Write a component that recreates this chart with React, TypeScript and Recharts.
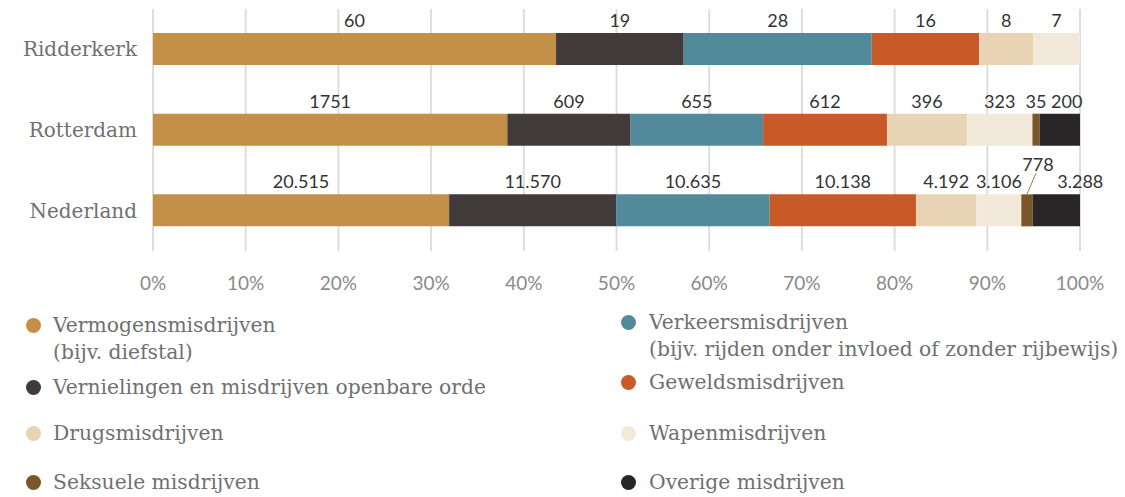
import React from 'react';
import { BarChart, Bar, XAxis, YAxis, CartesianGrid, LabelList } from 'recharts';

// ---- data ----
const categories = ['Ridderkerk', 'Rotterdam', 'Nederland'];
const vermogens = [60, 1751, 20515];
const vernielingen = [19, 609, 11570];
const verkeers = [28, 655, 10635];
const gewelds = [16, 612, 10138];
const drugs = [8, 396, 4192];
const wapen = [7, 323, 3106];
const seksuele = [0, 35, 778];
const overige = [0, 200, 3288];
// whether thousands are grouped with a dot in the value labels (per category, as in source)
const groupThousands = [false, false, true];

const xTicks = [0, 0.1, 0.2, 0.3, 0.4, 0.5, 0.6, 0.7, 0.8, 0.9, 1];
const xTickLabels = ['0%', '10%', '20%', '30%', '40%', '50%', '60%', '70%', '80%', '90%', '100%'];

const seriesKeys = ['vermogens', 'vernielingen', 'verkeers', 'gewelds', 'drugs', 'wapen', 'seksuele', 'overige'];
const seriesValues: Record<string, number[]> = { vermogens, vernielingen, verkeers, gewelds, drugs, wapen, seksuele, overige };
const seriesLegend: Record<string, string[]> = {
  vermogens: ['Vermogensmisdrijven', '(bijv. diefstal)'],
  vernielingen: ['Vernielingen en misdrijven openbare orde'],
  verkeers: ['Verkeersmisdrijven', '(bijv. rijden onder invloed of zonder rijbewijs)'],
  gewelds: ['Geweldsmisdrijven'],
  drugs: ['Drugsmisdrijven'],
  wapen: ['Wapenmisdrijven'],
  seksuele: ['Seksuele misdrijven'],
  overige: ['Overige misdrijven'],
};

// ---- styles ----
const colors: Record<string, string> = {
  vermogens: '#C48F47',
  vernielingen: '#413B3B',
  verkeers: '#538A9B',
  gewelds: '#C85A27',
  drugs: '#E8D4B5',
  wapen: '#F3E9DB',
  seksuele: '#7A5628',
  overige: '#2A2627',
};

const legendPlacement: Record<string, { dotX: number; textX: number; y: number }> = {
  vermogens: { dotX: 33, textX: 53, y: 325 },
  vernielingen: { dotX: 33, textX: 53, y: 387 },
  drugs: { dotX: 33, textX: 53, y: 433 },
  seksuele: { dotX: 33, textX: 53, y: 482 },
  verkeers: { dotX: 628, textX: 649, y: 322 },
  gewelds: { dotX: 628, textX: 649, y: 382 },
  wapen: { dotX: 628, textX: 649, y: 433 },
  overige: { dotX: 628, textX: 649, y: 482 },
};

const labelNudges: Record<string, { dx?: number; dy?: number; leader?: boolean }> = {
  'seksuele-Nederland': { dx: 11, dy: -17, leader: true },
  'overige-Rotterdam': { dx: 7 },
  'overige-Nederland': { dx: 24 },
};

const serif = '"DejaVu Serif", serif';
const sans = 'Lato, "Open Sans", sans-serif';

const data = categories.map((c, i) => {
  const row: Record<string, any> = { category: c };
  seriesKeys.forEach((k) => {
    row[k] = seriesValues[k][i];
  });
  return row;
});

const fmt = (v: number, idx: number) => {
  if (!groupThousands[idx]) return String(v);
  return String(v).replace(/\B(?=(\d{3})+(?!\d))/g, '.');
};

const makeLabel = (key: string) => (props: any) => {
  const { x, y, width, value } = props;
  if (!value) return null;
  const idx = seriesValues[key].indexOf(Number(value));
  const cat = categories[idx];
  const nx = Number(x);
  const ny = Number(y);
  const nw = Number(width);
  const n = labelNudges[`${key}-${cat}`] || {};
  const cx = nx + nw / 2 + (n.dx || 0);
  const by = ny - 6 + (n.dy || 0);
  return (
    <g>
      {n.leader && (
        <line x1={nx + nw / 2} y1={ny} x2={cx - 2} y2={by + 2} stroke="#9a7a55" strokeWidth={1} />
      )}
      <text x={cx} y={by} textAnchor="middle" fontFamily={sans} fontSize={18} fill="#333333">
        {fmt(Number(value), idx)}
      </text>
    </g>
  );
};

const CategoryTick = (props: any) => {
  const { x, y, payload } = props;
  return (
    <text x={x} y={y} dy={7} textAnchor="end" fontFamily={serif} fontSize={20} fill="#707070">
      {payload.value}
    </text>
  );
};

const PercentTick = (props: any) => {
  const { x, y, payload, index } = props;
  return (
    <text x={x} y={y} dy={39} textAnchor="middle" fontFamily={sans} fontSize={19} fill="#8a8a8a">
      {xTickLabels[index] ?? `${Math.round(payload.value * 100)}%`}
    </text>
  );
};

export default function App() {
  return (
    <div style={{ position: 'relative', width: 1125, height: 497, background: '#ffffff', overflow: 'hidden' }}>
      <style>{`body{margin:0;}`}</style>
      <BarChart
        width={1125}
        height={300}
        data={data}
        layout="vertical"
        stackOffset="expand"
        margin={{ top: 9, right: 45, left: 0, bottom: 0 }}
        barSize={32}
      >
        <CartesianGrid horizontal={false} vertical stroke="#dddddd" strokeWidth={2} />
        <XAxis
          type="number"
          domain={[0, 1]}
          ticks={xTicks}
          axisLine={false}
          tickLine={false}
          tickSize={0}
          tickMargin={0}
          height={49}
          tick={<PercentTick />}
          interval={0}
        />
        <YAxis
          type="category"
          dataKey="category"
          width={153}
          axisLine={false}
          tickLine={false}
          tickSize={0}
          tickMargin={16}
          tick={<CategoryTick />}
        />
        {seriesKeys.map((k) => (
          <Bar key={k} dataKey={k} stackId="a" fill={colors[k]} isAnimationActive={false}>
            <LabelList dataKey={k} content={makeLabel(k)} />
          </Bar>
        ))}
      </BarChart>
      {seriesKeys.map((k) => {
        const p = legendPlacement[k];
        const lines = seriesLegend[k];
        return (
          <React.Fragment key={k}>
            <div
              style={{
                position: 'absolute',
                left: p.dotX - 7.5,
                top: p.y - 7.5,
                width: 15,
                height: 15,
                borderRadius: '50%',
                background: colors[k],
              }}
            />
            {lines.map((t, li) => (
              <div
                key={li}
                style={{
                  position: 'absolute',
                  left: p.textX,
                  top: p.y - 13 + li * 27,
                  height: 26,
                  lineHeight: '26px',
                  fontFamily: serif,
                  fontSize: 20.3,
                  color: '#707070',
                  whiteSpace: 'nowrap',
                }}
              >
                {t}
              </div>
            ))}
          </React.Fragment>
        );
      })}
    </div>
  );
}
